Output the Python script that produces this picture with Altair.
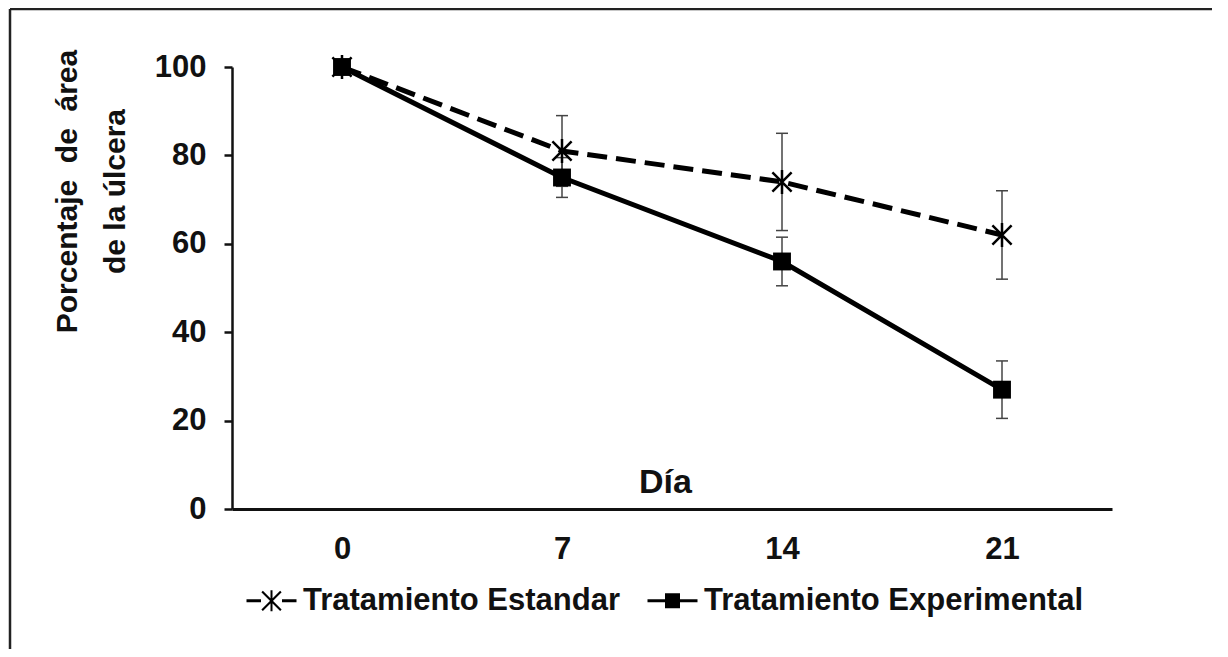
import altair as alt
import pandas as pd

# ---- data ----
dias = ["0", "7", "14", "21"]
estandar = [100, 81, 74, 62]
estandar_err = [0, 8, 11, 10]
experimental = [100, 75, 56, 27]
experimental_err = [0, 4.5, 5.5, 6.5]
series = ["Tratamiento Estandar", "Tratamiento Experimental"]
y_title = ["Porcentaje\u00a0 de\u00a0 área", "de la úlcera"]

rows = []
for d, v, e in zip(dias, estandar, estandar_err):
    rows.append({"dia": d, "valor": v, "lo": v - e, "hi": v + e, "err": e, "serie": series[0]})
for d, v, e in zip(dias, experimental, experimental_err):
    rows.append({"dia": d, "valor": v, "lo": v - e, "hi": v + e, "err": e, "serie": series[1]})
df = pd.DataFrame(rows)

FONT = "Liberation Sans"
W, H = 880, 442

STAR = "M0,-1V1M-0.8,-0.8L0.8,0.8M-0.8,0.8L0.8,-0.8"
LEG_STAR = ("M-1,-0.06H-0.42V0.06H-1Z M0.42,-0.06H1V0.06H0.42Z "
            "M-0.04,-0.42H0.04V0.42H-0.04Z "
            "M-0.345,-0.405L0.405,0.345L0.345,0.405L-0.405,-0.345Z "
            "M0.345,-0.405L0.405,-0.345L-0.345,0.405L-0.405,0.345Z")
LEG_SQUARE = "M-1,-0.06H1V0.06H-1Z M-0.3,-0.3H0.3V0.3H-0.3Z"

yscale = alt.Scale(domain=[0, 100], nice=False)

x_enc = alt.X("dia:N", sort=dias,
              scale=alt.Scale(type="point", padding=0.5),
              axis=alt.Axis(title="Día", titleFontSize=34, titleFont=FONT, titleFontWeight="bold",
                            titleX=433, titleY=-17, titleBaseline="alphabetic", titleAnchor="middle",
                            titleAlign="center",
                            labelFontSize=31, labelFont=FONT, labelFontWeight="bold", labelAngle=0,
                            labelPadding=25, ticks=False, tickSize=0, domainWidth=3,
                            domainColor="#111", labelColor="#111", titleColor="#111", grid=False))
y_axis = alt.Axis(values=[0, 20, 40, 60, 80, 100],
                  titleFontSize=30, titleFont=FONT, titleFontWeight="bold",
                  titleLineHeight=48, titleX=-150, titleY=124, titleAngle=270,
                  titleAlign="center", titleAnchor="middle",
                  labelFontSize=31, labelFont=FONT, labelFontWeight="bold",
                  labelPadding=18, tickSize=8, tickWidth=2.5, domainWidth=2.5,
                  domainColor="#111", tickColor="#111", labelColor="#111",
                  titleColor="#111", grid=False)


def yq(field):
    return alt.Y(field, scale=yscale, title=y_title, axis=y_axis)


base = alt.Chart(df)
one = base.transform_filter(alt.datum.dia == "0").transform_filter(alt.datum.serie == series[0])

frame_top = one.mark_rule(stroke="#222", strokeWidth=2.5).encode(
    x=alt.value(-222), x2=alt.value(W + 100), y=alt.value(-58))
frame_left = one.mark_rule(stroke="#222", strokeWidth=2.5).encode(
    x=alt.value(-222), y=alt.value(-58), y2=alt.value(H + 140))

line_std = base.transform_filter(alt.datum.serie == series[0]).mark_line(
    color="black", strokeWidth=5, strokeDash=[20, 9]).encode(x=x_enc, y=yq("valor:Q"))
line_exp = base.transform_filter(alt.datum.serie == series[1]).mark_line(
    color="black", strokeWidth=5).encode(x=x_enc, y=yq("valor:Q"))

eb = base.transform_filter(alt.datum.err > 0)
err_rule = eb.mark_rule(color="#444", strokeWidth=1.5).encode(x=x_enc, y=yq("lo:Q"), y2="hi:Q")
cap_lo = eb.mark_tick(color="#444", size=12, thickness=1.5, opacity=1).encode(x=x_enc, y=yq("lo:Q"))
cap_hi = eb.mark_tick(color="#444", size=12, thickness=1.5, opacity=1).encode(x=x_enc, y=yq("hi:Q"))

pt_std = base.transform_filter(alt.datum.serie == series[0]).mark_point(
    shape=STAR, size=576, filled=False, stroke="black", strokeWidth=2.5, opacity=1).encode(
    x=x_enc, y=yq("valor:Q"))
pt_exp = base.transform_filter(alt.datum.serie == series[1]).mark_point(
    shape="square", size=320, filled=True, color="black", opacity=1).encode(
    x=x_enc, y=yq("valor:Q"))

legend_layer = base.mark_point(filled=True, color="black", opacity=0).encode(
    x=x_enc, y=yq("valor:Q"),
    shape=alt.Shape("serie:N", scale=alt.Scale(domain=series, range=[LEG_STAR, LEG_SQUARE]),
                    legend=alt.Legend(title=None, orient="none", direction="horizontal",
                                      legendX=14, legendY=508, padding=0,
                                      symbolSize=2500, symbolFillColor="black",
                                      symbolStrokeColor="black", symbolStrokeWidth=1,
                                      symbolOpacity=1,
                                      labelFont=FONT, labelFontSize=31, labelFontWeight="bold",
                                      labelColor="#111", labelOffset=6, columnPadding=25,
                                      labelLimit=600)))

chart = alt.layer(line_std, line_exp, err_rule, cap_lo, cap_hi, pt_std, pt_exp, legend_layer,
                  frame_top, frame_left).properties(
    width=W, height=H,
    padding={"left": 224, "top": 59, "right": 100, "bottom": 140},
    autosize=alt.AutoSizeParams(type="none"),
).configure(background="white").configure_view(stroke=None, strokeWidth=0)

chart.save("out.html", embed_options={"renderer": "svg", "actions": False})
